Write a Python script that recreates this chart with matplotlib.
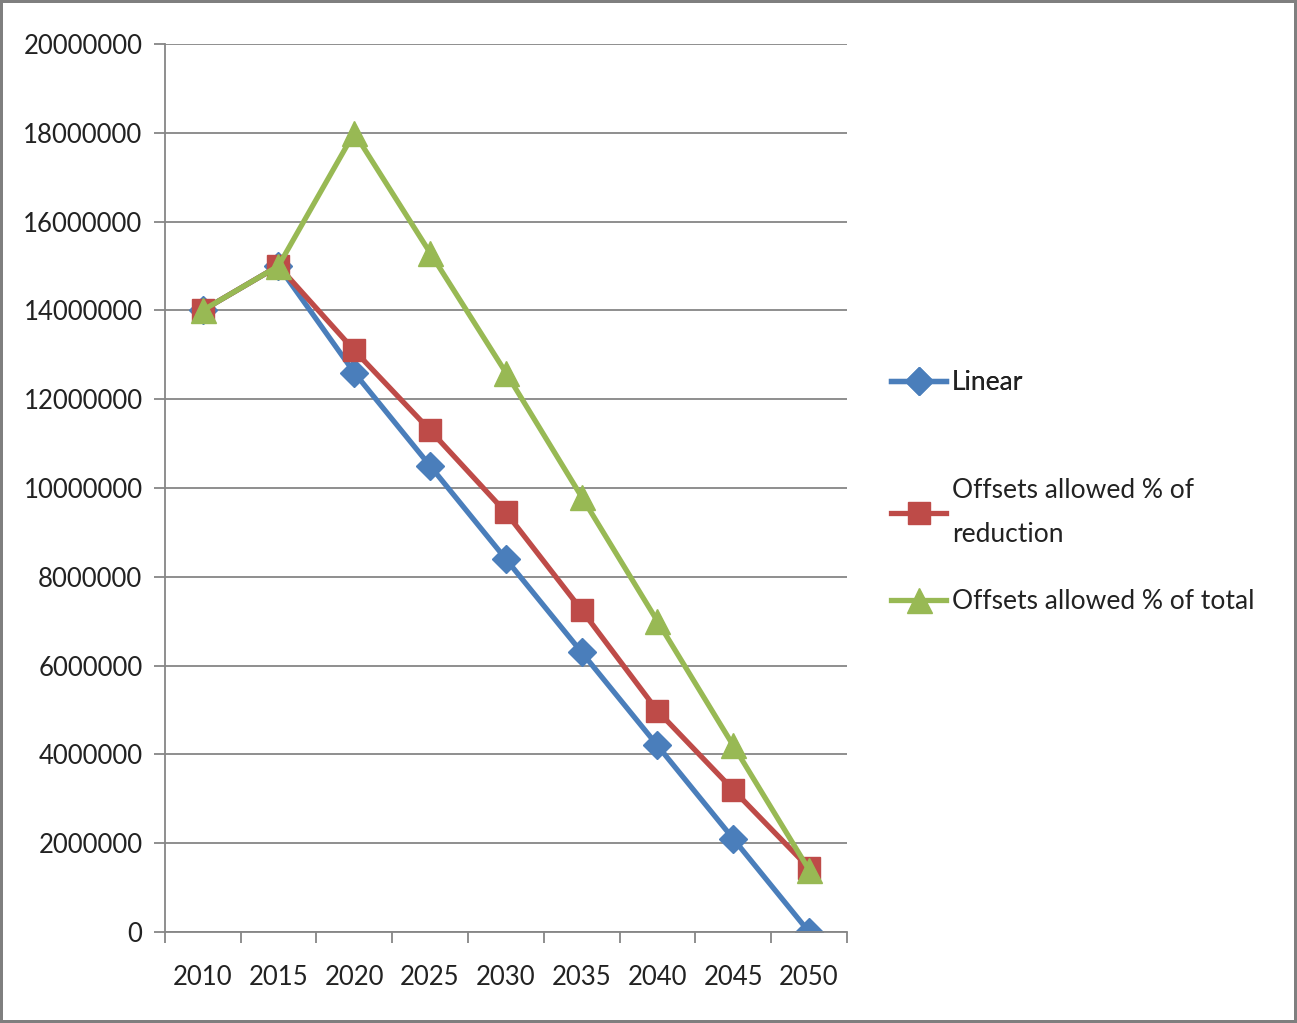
import matplotlib
matplotlib.use("Agg")
import matplotlib.pyplot as plt

years = ["2010", "2015", "2020", "2025", "2030", "2035", "2040", "2045", "2050"]
linear = [14000000, 15000000, 12600000, 10500000, 8400000, 6300000, 4200000, 2100000, 0]
off_reduction = [14000000, 15000000, 13100000, 11300000, 9450000, 7250000, 4980000, 3200000, 1440000]
off_total = [14000000, 15000000, 18000000, 15300000, 12600000, 9800000, 7000000, 4200000, 1400000]

plt.rcParams['font.family'] = ['Lato', 'DejaVu Sans']

fig = plt.figure(figsize=(12.97, 10.23), dpi=100, edgecolor="#7f7f7f", linewidth=3)
ax = fig.add_axes([0.127, 0.089, 0.526, 0.868])

x = list(range(len(years)))
l1, = ax.plot(x, linear, color="#4a7ebb", lw=3.8, marker="D", ms=14, label="Linear")
l2, = ax.plot(x, off_reduction, color="#be4b48", lw=3.8, marker="s", ms=16,
              label="Offsets allowed % of\nreduction")
l3, = ax.plot(x, off_total, color="#98b954", lw=3.8, marker="^", ms=18,
              label="Offsets allowed % of total")

ax.set_xlim(-0.5, len(years) - 0.5)
ax.set_ylim(0, 20000000)
ax.set_yticks(range(0, 20000001, 2000000))
ax.set_yticklabels([str(v) for v in range(0, 20000001, 2000000)], fontsize=18.5, color="#222222")
ax.set_xticks(x)
ax.set_xticklabels(years, fontsize=18.5, color="#222222")
ax.set_xticks([i - 0.5 for i in range(len(years) + 1)], minor=True)
ax.tick_params(axis="x", which="major", length=0, pad=24)
ax.tick_params(axis="x", which="minor", length=8, color="#868686", width=1.3)
ax.tick_params(axis="y", length=8, color="#868686", width=1.3, pad=8)
ax.grid(axis="y", color="#868686", lw=1.3)
ax.set_axisbelow(True)
for s in ["top", "right"]:
    ax.spines[s].set_visible(False)
for s in ["left", "bottom"]:
    ax.spines[s].set_color("#868686")
    ax.spines[s].set_linewidth(1.3)

leg1 = fig.legend(handles=[l1], loc="center left", bbox_to_anchor=(0.687, 1 - 383 / 1023),
                  frameon=False, fontsize=19, handlelength=2.1, handletextpad=0.2,
                  borderpad=0, borderaxespad=0, labelcolor="#222222")
leg2 = fig.legend(handles=[l2, l3], loc="upper left", bbox_to_anchor=(0.687, 1 - 478 / 1023),
                  frameon=False, fontsize=19, handlelength=2.1, handletextpad=0.2,
                  labelspacing=1.6, borderpad=0, borderaxespad=0, labelcolor="#222222")
fig.add_artist(leg1)
for t in leg2.get_texts():
    t.set_linespacing(1.95)

fig.savefig("out.png", dpi=100)
